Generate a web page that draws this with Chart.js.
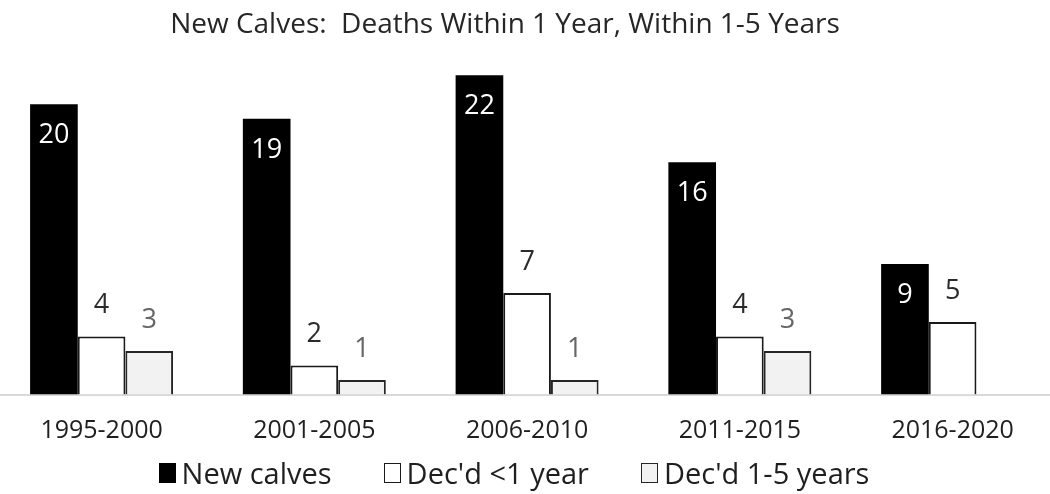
<!DOCTYPE html>
<html>
<head>
<meta charset="utf-8">
<script src="https://cdn.jsdelivr.net/npm/chart.js@4.4.1/dist/chart.umd.min.js"></script>
<style>
  html, body { margin: 0; padding: 0; background: #fff; overflow: hidden; width: 1050px; height: 494px; }
  #wrap { position: absolute; left: -49px; top: 0; width: 1108px; height: 494px; }
  #legend { position: absolute; left: 0; width: 1028px; top: 456px; height: 34px;
            display: flex; justify-content: center; align-items: center;
            font-family: 'Open Sans', sans-serif; font-size: 29px; color: #1f1f1f; line-height: 34px; }
  #legend .item { display: flex; align-items: center; margin: 0 26px; white-space: pre; }
  #legend .box { display: inline-block; width: 17px; height: 20px; box-sizing: border-box; margin-right: 6px; }
</style>
</head>
<body>
<div id="wrap"><canvas id="calves"></canvas></div>
<div id="legend"></div>
<script>
// Five-year periods and counts per period
const periods = ['1995-2000', '2001-2005', '2006-2010', '2011-2015', '2016-2020'];
const newCalves = [20, 19, 22, 16, 9];
const diedUnderOne = [4, 2, 7, 4, 5];
const diedOneToFive = [3, 1, 1, 3, null];
const seriesNames = ['New calves', "Dec'd <1 year", "Dec'd 1-5 years"];
const chartTitle = 'New Calves:  Deaths Within 1 Year, Within 1-5 Years';

const FONT = 'Open Sans';
const labelColors = ['#ffffff', '#2b2b2b', '#666666'];

// Value labels: inside the top of the dark bars, above the light ones
const valueLabels = {
  id: 'valueLabels',
  afterDatasetsDraw(chart) {
    const ctx = chart.ctx;
    ctx.save();
    ctx.font = '27px ' + FONT;
    ctx.textAlign = 'center';
    ctx.textBaseline = 'middle';
    chart.data.datasets.forEach((ds, di) => {
      const meta = chart.getDatasetMeta(di);
      meta.data.forEach((bar, i) => {
        const v = ds.data[i];
        if (v === null || v === undefined) return;
        ctx.fillStyle = labelColors[di];
        const y = di === 0 ? bar.y + 31 : bar.y - 31;
        ctx.fillText(String(v), bar.x, y);
      });
    });
    ctx.restore();
  }
};

const chart = new Chart(document.getElementById('calves'), {
  type: 'bar',
  data: {
    labels: periods,
    datasets: [
      { label: seriesNames[0], data: newCalves, backgroundColor: '#000000', borderColor: '#000000', borderWidth: 0 },
      { label: seriesNames[1], data: diedUnderOne, backgroundColor: '#ffffff', borderColor: '#1a1a1a', borderWidth: 2 },
      { label: seriesNames[2], data: diedOneToFive, backgroundColor: '#f2f2f2', borderColor: '#262626', borderWidth: 2 }
    ]
  },
  options: {
    responsive: true,
    maintainAspectRatio: false,
    animation: false,
    layout: { padding: { bottom: 39.5 } },
    datasets: { bar: { categoryPercentage: 0.672, barPercentage: 1.0 } },
    scales: {
      x: {
        grid: { display: false, drawTicks: false },
        border: { display: true, color: '#d9d9d9', width: 2 },
        ticks: { color: '#1f1f1f', font: { family: FONT, size: 25 }, padding: 21, maxRotation: 0 },
        afterFit(scale) { scale.height = 60; }
      },
      y: {
        min: 0,
        max: 24,
        grid: { display: false },
        border: { display: false },
        ticks: { display: false },
        afterFit(scale) { scale.width = 44.2; }
      }
    },
    plugins: {
      title: {
        display: true,
        text: chartTitle,
        color: '#262626',
        font: { family: FONT, size: 28, weight: 'normal' },
        padding: { top: 8, bottom: 4.7 }
      },
      legend: { display: false },
      tooltip: { enabled: false }
    }
  },
  plugins: [valueLabels]
});

// HTML legend built from the chart's datasets
const legendEl = document.getElementById('legend');
chart.data.datasets.forEach(ds => {
  const item = document.createElement('span');
  item.className = 'item';
  const box = document.createElement('span');
  box.className = 'box';
  box.style.background = ds.backgroundColor;
  box.style.border = ds.borderWidth ? '1.5px solid ' + ds.borderColor : '0';
  item.appendChild(box);
  item.appendChild(document.createTextNode(ds.label));
  legendEl.appendChild(item);
});
</script>
</body>
</html>
